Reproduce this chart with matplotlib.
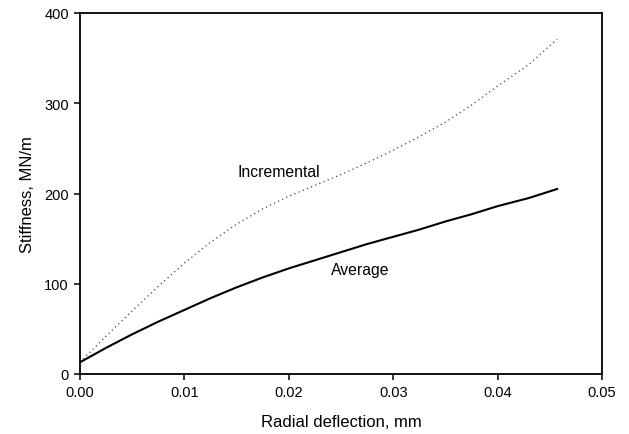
import matplotlib
matplotlib.use("Agg")
import matplotlib.pyplot as plt

plt.rcParams['font.family'] = ['Liberation Sans', 'DejaVu Sans']

# Radial deflection (mm) and stiffness (MN/m)
deflection = [0.0, 0.0025, 0.005, 0.0075, 0.01, 0.0125, 0.015, 0.0175, 0.02,
              0.0225, 0.025, 0.0275, 0.03, 0.0325, 0.035, 0.0375, 0.04,
              0.043, 0.0457]
incremental = [13, 42, 70, 97, 123, 146, 166, 183, 197, 209, 221, 234, 248,
               263, 279, 298, 319, 343, 371]
average = [13, 29, 44, 58, 71, 84, 96, 107, 117, 126, 135, 144, 152, 160,
           169, 177, 186, 195, 205]

x_ticks = [0.00, 0.01, 0.02, 0.03, 0.04, 0.05]
x_tick_labels = ['0.00', '0.01', '0.02', '0.03', '0.04', '0.05']
y_ticks = [0, 100, 200, 300, 400]

W, H = 629, 435
fig = plt.figure(figsize=(W / 100, H / 100), dpi=100)
ax = fig.add_axes([80 / W, (H - 375) / H, (602 - 80) / W, (375 - 14) / H])

ax.plot(deflection, average, color='black', linewidth=1.5,
        solid_joinstyle='round')
ax.plot(deflection, incremental, color='#444444', linewidth=0.9,
        linestyle=(0, (1, 2.6)))

ax.text(0.0151, 224, 'Incremental', fontsize=11.3, va='center', ha='left')
ax.text(0.0240, 116, 'Average', fontsize=11.3, va='center', ha='left')

ax.set_xlim(0, 0.05)
ax.set_ylim(0, 400)
ax.set_xticks(x_ticks)
ax.set_xticklabels(x_tick_labels)
ax.set_yticks(y_ticks)
ax.tick_params(direction='out', length=4, width=1.1, labelsize=10.5, pad=4)
for s in ax.spines.values():
    s.set_linewidth(1.3)

ax.set_xlabel('Radial deflection, mm', fontsize=12, labelpad=11)
ax.set_ylabel('Stiffness, MN/m', fontsize=12, labelpad=7)

fig.savefig('out.png', dpi=100)
